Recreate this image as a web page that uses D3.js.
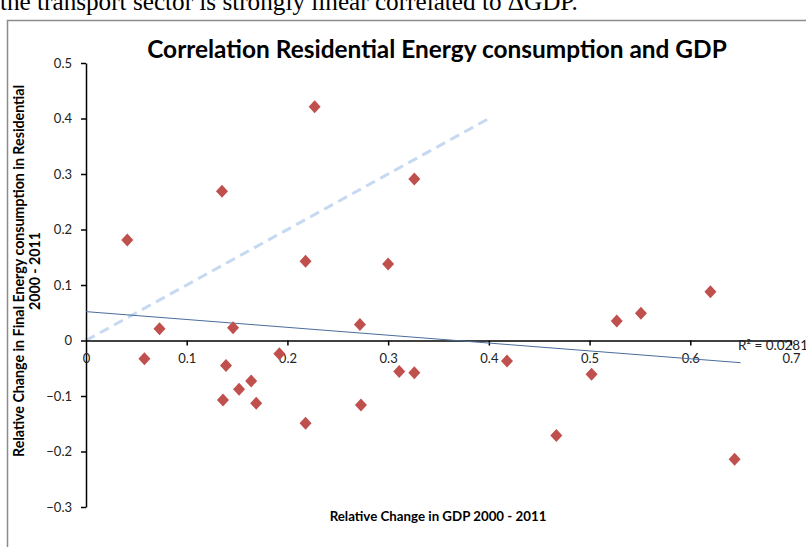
<!DOCTYPE html>
<html>
<head>
<meta charset="utf-8">
<script src="https://cdn.jsdelivr.net/npm/d3@7/dist/d3.min.js"></script>
<style>
  html, body { margin: 0; padding: 0; background: #fff; }
  svg { display: block; }
</style>
</head>
<body>
<svg id="chart" width="806" height="547"></svg>
<script>
// ---- data ----
const gdpChange = [0.041, 0.073, 0.135, 0.146, 0.227, 0.218, 0.272, 0.300, 0.326,
  0.058, 0.139, 0.192, 0.136, 0.152, 0.164, 0.169, 0.218, 0.273, 0.311, 0.326,
  0.418, 0.467, 0.502, 0.644, 0.527, 0.551, 0.620];
const energyChange = [0.181, 0.021, 0.269, 0.023, 0.421, 0.143, 0.029, 0.138, 0.291,
  -0.033, -0.045, -0.024, -0.107, -0.088, -0.073, -0.113, -0.149, -0.116, -0.056, -0.058,
  -0.037, -0.171, -0.061, -0.214, 0.035, 0.049, 0.088];
const trendX = [0, 0.65];
const trendY = [0.052, -0.040];
const refX = [0, 0.4];
const refY = [0, 0.4];
const xTicks = [0, 0.1, 0.2, 0.3, 0.4, 0.5, 0.6, 0.7];
const yTicks = [0.5, 0.4, 0.3, 0.2, 0.1, 0, -0.1, -0.2, -0.3];
const titleText = "Correlation Residential Energy consumption and GDP";
const xTitle = "Relative Change in GDP 2000 - 2011";
const yTitle1 = "Relative Change in Final Energy consumption in Residential";
const yTitle2 = "2000 - 2011";
const rSquared = "R² = 0.0281";
const topText = "the transport sector is strongly linear correlated to \u0394GDP.";

const svg = d3.select("#chart");
const sans = "Lato, 'Open Sans', 'DejaVu Sans', sans-serif";

const x = d3.scaleLinear().domain([0, 0.7]).range([86, 791]);
const y = d3.scaleLinear().domain([-0.3, 0.5]).range([507, 63]);

function fit(sel, target) {
  const w = sel.node().getComputedTextLength();
  const fs = parseFloat(sel.attr("font-size"));
  sel.attr("font-size", fs * target / w);
}

// top clipped paragraph text
const tt = svg.append("text").attr("x", 0).attr("y", 10)
  .attr("font-family", "'Liberation Serif', 'Times New Roman', serif")
  .attr("font-size", 24).attr("fill", "#000").text(topText);
fit(tt, 578);

// frame
svg.append("path").attr("d", "M7.5,547 L7.5,20.5 L806,20.5")
  .attr("fill", "none").attr("stroke", "#8c8c8c").attr("stroke-width", 1.5);

// title
const ti = svg.append("text").attr("x", 437).attr("y", 58)
  .attr("text-anchor", "middle").attr("font-family", sans)
  .attr("font-weight", "bold").attr("font-size", 20).attr("fill", "#000").text(titleText);
fit(ti, 580);

// reference dashed line
svg.append("path")
  .attr("d", d3.line().x(d => x(d[0])).y(d => y(d[1]))(refX.map((v, i) => [v, refY[i]])))
  .attr("fill", "none").attr("stroke", "#c6d9f1").attr("stroke-width", 3)
  .attr("stroke-dasharray", "10,6");

// axes
const yAxis = d3.axisLeft(y).tickValues(yTicks).tickSize(5).tickSizeOuter(0)
  .tickFormat(d => d === 0 ? "0" : d3.format(".1f")(d));
const gy = svg.append("g").attr("transform", "translate(86,0)").call(yAxis);
gy.select(".domain").attr("stroke", "#000").attr("stroke-width", 1.5);
gy.selectAll(".tick line").attr("stroke", "#000").attr("stroke-width", 1.5);
gy.selectAll(".tick text").attr("x", -14).attr("font-family", sans)
  .attr("font-size", 13).attr("fill", "#222");

const xAxis = d3.axisBottom(x).tickValues(xTicks).tickSize(5).tickSizeOuter(0)
  .tickFormat(d => d === 0 ? "0" : d3.format(".1f")(d));
const gx = svg.append("g").attr("transform", `translate(0,${y(0)})`).call(xAxis);
gx.select(".domain").attr("stroke", "#000").attr("stroke-width", 1.5);
gx.selectAll(".tick line").attr("stroke", "#000").attr("stroke-width", 1.5);
gx.selectAll(".tick text").attr("y", 13).attr("font-family", sans)
  .attr("font-size", 13).attr("fill", "#222");
gx.selectAll(".tick").filter(d => d === 0).select("line").remove();

// trendline
svg.append("path")
  .attr("d", d3.line().x(d => x(d[0])).y(d => y(d[1]))(trendX.map((v, i) => [v, trendY[i]])))
  .attr("fill", "none").attr("stroke", "#4a6d9c").attr("stroke-width", 1);

// markers
const pts = gdpChange.map((v, i) => [v, energyChange[i]]);
svg.append("g").selectAll("path").data(pts).join("path")
  .attr("transform", d => `translate(${x(d[0])},${y(d[1])})`)
  .attr("d", "M0,-6.5 L6,0 L0,6.5 L-6,0 Z")
  .attr("fill", "#c0504d");

// R squared label
const rl = svg.append("text").attr("x", 738).attr("y", 350)
  .attr("font-family", sans).attr("font-size", 13).attr("fill", "#222").text(rSquared);
fit(rl, 70);

// axis titles
const xt = svg.append("text").attr("x", 438).attr("y", 521).attr("text-anchor", "middle")
  .attr("font-family", sans).attr("font-weight", "bold").attr("font-size", 12)
  .attr("fill", "#000").text(xTitle);
fit(xt, 217);

const yg = svg.append("g").attr("transform", "translate(24,271) rotate(-90)");
const y1 = yg.append("text").attr("x", 0).attr("y", 0).attr("text-anchor", "middle")
  .attr("font-family", sans).attr("font-weight", "bold").attr("font-size", 12)
  .attr("fill", "#000").text(yTitle1);
fit(y1, 372);
yg.append("text").attr("x", 0).attr("y", 16).attr("text-anchor", "middle")
  .attr("font-family", sans).attr("font-weight", "bold").attr("font-size", y1.attr("font-size"))
  .attr("fill", "#000").text(yTitle2);
</script>
</body>
</html>
